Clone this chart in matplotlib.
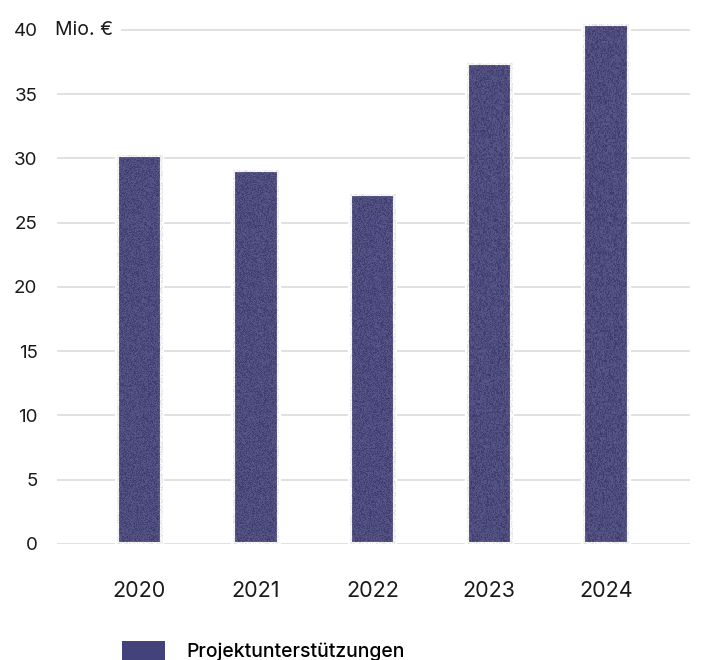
import matplotlib

matplotlib.use("Agg")
import matplotlib.pyplot as plt
import numpy as np
from matplotlib.patches import Patch

years = ["2020", "2021", "2022", "2023", "2024"]
support = [30.3, 29.1, 27.2, 37.4, 40.5]
yticks = [0, 5, 10, 15, 20, 25, 30, 35, 40]
series_label = "Projektunterstützungen"
unit_label = "Mio. €"

bar_color = "#44427a"
grid_color = "#dcdcdc"

plt.rcParams["font.family"] = ["Inter", "DejaVu Sans"]

fig = plt.figure(figsize=(7.03, 6.6), dpi=100)
ax = fig.add_axes([0.081, 0.1758, 0.9004, 0.808])

x = np.arange(len(years))
bars = ax.bar(x, support, width=0.39, color=bar_color,
              edgecolor="white", linewidth=3, zorder=3)

# grainy fill over each bar
rng = np.random.default_rng(7)
noise = rng.random((400, 60))
for b in bars:
    im = ax.imshow(noise, cmap="Greys", alpha=0.12, aspect="auto",
                   extent=(b.get_x(), b.get_x() + b.get_width(), 0, b.get_height()),
                   zorder=4, interpolation="nearest")
    im.set_clip_path(b)

ax.set_xlim(-0.707, 4.72)
ax.set_ylim(0, 41.5)
ax.set_yticks(yticks)
ax.set_xticks(x, years)
ax.yaxis.grid(True, color=grid_color, linewidth=1.2, zorder=0)
ax.set_axisbelow(True)
for s in ax.spines.values():
    s.set_visible(False)
ax.tick_params(axis="y", length=0, pad=14, labelsize=13.5, labelcolor="#1a1a1a")
ax.tick_params(axis="x", length=0, pad=27, labelsize=15.5, labelcolor="#1a1a1a")

ax.text(-0.72, 40, unit_label, fontsize=14, color="#1a1a1a", va="center",
        ha="left", zorder=5,
        bbox=dict(facecolor="white", edgecolor="none", pad=5))

handle = Patch(facecolor=bar_color, edgecolor="none")
fig.legend([handle], [series_label], loc="upper left",
           bbox_to_anchor=(0.1735, 0.029), frameon=False,
           borderpad=0, borderaxespad=0, handlelength=2.2, handleheight=1.2,
           handletextpad=1.1, prop={"weight": "medium", "size": 14})

fig.savefig("out.png", dpi=100)
